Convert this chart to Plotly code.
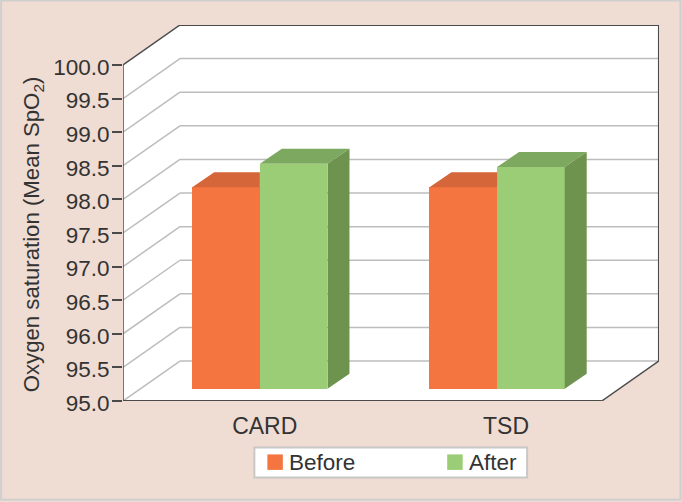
import plotly.graph_objects as go

categories = ["CARD", "TSD"]
series_names = ["Before", "After"]
before = [98.0, 98.0]
after = [98.35, 98.3]
y_ticks = [95.0, 95.5, 96.0, 96.5, 97.0, 97.5, 98.0, 98.5, 99.0, 99.5, 100.0]
y_labels = ["95.0", "95.5", "96.0", "96.5", "97.0", "97.5", "98.0", "98.5", "99.0", "99.5", "100.0"]

W, H = 682, 502
LEFT, RIGHT, TOP, BOTTOM = 122.5, 659.0, 25.0, 401.5
PX_X = 239.6          # pixels per x unit
PX_Y = 67.3           # pixels per y unit
DX, DY = 57.0 / PX_X, 40.0 / PX_Y              # chamber depth
BDX, BDY = 22.0 / PX_X, 15.0 / PX_Y            # bar depth
LIFT = 12.2 / PX_Y    # bars stand inside the floor
BAR_W = 67.7 / PX_X
before_x = [0.4305, 1.4215]
after_x = [0.7130, 1.7040]
label_x = [0.592, 1.600]
FRONT_X = 2.0

ORANGE, ORANGE_TOP = "#F47540", "#D5663A"
GREEN, GREEN_TOP, GREEN_SIDE = "#9ACD75", "#7DA85F", "#6E934E"
DARK, GRID, BG, TEXT = "#4a4a4a", "#bdbdbd", "#EFDCD2", "#333333"
FONT = "Liberation Sans, Arial, sans-serif"


def px(x):
    return (x - LEFT) / (RIGHT - LEFT)


def py(y):
    return (BOTTOM - y) / (BOTTOM - TOP)


fig = go.Figure()

for name, xs, vals, colr in [(series_names[0], before_x, before, ORANGE), (series_names[1], after_x, after, GREEN)]:
    fig.add_trace(go.Bar(name=name, x=xs, y=[v - 95 for v in vals], base=95 + LIFT, width=BAR_W,
                         marker=dict(color=colr, line=dict(width=0)), hoverinfo="skip", showlegend=False))


def poly(xs, ys, colr):
    fig.add_trace(go.Scatter(x=xs, y=ys, fill="toself", fillcolor=colr, mode="lines",
                             line=dict(width=0, color=colr), showlegend=False, hoverinfo="skip"))


for i in range(2):
    x0, t = before_x[i] - BAR_W / 2, before[i] + LIFT
    x1 = x0 + BAR_W
    poly([x0, x1, x1, x0 + BDX, x0], [t, t, t + BDY, t + BDY, t], ORANGE_TOP)
    x0, t = after_x[i] - BAR_W / 2, after[i] + LIFT
    x1 = x0 + BAR_W
    poly([x0, x1, x1 + BDX, x0 + BDX, x0], [t, t, t + BDY, t + BDY, t], GREEN_TOP)
    b = 95 + LIFT
    poly([x1, x1 + BDX, x1 + BDX, x1, x1], [t, t + BDY, b + BDY, b, t], GREEN_SIDE)

shapes = []
ymax = y_ticks[-1]
# thin grey frame round the page
shapes.append(dict(type="rect", xref="paper", yref="paper", layer="below", x0=px(0.5), x1=px(680.5),
                   y0=py(500.5), y1=py(0.5), fillcolor="rgba(0,0,0,0)", line=dict(color="#cfcfcf", width=2)))
shapes.append(dict(type="path", layer="below", line=dict(width=0), fillcolor="white",
                   path=f"M0,95 L0,{ymax} L{DX},{ymax + DY} L{FRONT_X + DX},{ymax + DY} "
                        f"L{FRONT_X + DX},{95 + DY} L{FRONT_X},95 Z"))
for v in y_ticks[:-1]:
    shapes.append(dict(type="line", layer="below", x0=0, y0=v, x1=DX, y1=v + DY, line=dict(color=GRID, width=1.5)))
    shapes.append(dict(type="line", layer="below", x0=DX, y0=v + DY, x1=FRONT_X + DX, y1=v + DY,
                       line=dict(color=GRID, width=1.5)))
for a, b, c, d, w in [
    (0, 95, 0, ymax, 1.5),
    (0, ymax, DX, ymax + DY, 1.5),
    (DX, ymax + DY, FRONT_X + DX, ymax + DY, 2),
    (FRONT_X + DX, ymax + DY, FRONT_X + DX, 95 + DY, 1.5),
    (FRONT_X + DX, 95 + DY, FRONT_X, 95, 1.5),
    (FRONT_X, 95, 0, 95, 2),
]:
    shapes.append(dict(type="line", layer="below", x0=a, y0=b, x1=c, y1=d, line=dict(color=DARK, width=w)))

# legend box and swatches, placed in page pixels
shapes.append(dict(type="rect", xref="paper", yref="paper", x0=px(254), x1=px(527), y0=py(448), y1=py(478),
                   fillcolor="white", line=dict(color="#c8c8c8", width=2)))
for sx, colr in [(267, ORANGE), (447, GREEN)]:
    shapes.append(dict(type="rect", xref="paper", yref="paper", x0=px(sx), x1=px(sx + 15.5), y0=py(455), y1=py(470.5),
                       fillcolor=colr, line=dict(width=0)))

annotations = [
    dict(text=series_names[0], xref="paper", yref="paper", x=px(287), y=py(463), xanchor="left", yanchor="middle",
         showarrow=False, font=dict(size=22.5, color=TEXT)),
    dict(text=series_names[1], xref="paper", yref="paper", x=px(466.5), y=py(463), xanchor="left", yanchor="middle",
         showarrow=False, font=dict(size=22.5, color=TEXT)),
    dict(text="Oxygen saturation (Mean SpO<sub>2</sub>)", xref="paper", yref="paper", x=px(32), y=py(235),
         xanchor="center", yanchor="middle", textangle=-90, showarrow=False, font=dict(size=22.2, color=TEXT)),
]

fig.update_layout(
    width=W, height=H, autosize=False,
    margin=dict(l=LEFT, r=W - RIGHT, t=TOP, b=H - BOTTOM, pad=0),
    paper_bgcolor=BG, plot_bgcolor="rgba(0,0,0,0)",
    barmode="overlay", bargap=0,
    font=dict(family=FONT, color=TEXT, size=20),
    shapes=shapes, annotations=annotations,
    xaxis=dict(range=[0, (RIGHT - LEFT) / PX_X], tickmode="array", tickvals=label_x, ticktext=categories,
               showgrid=False, zeroline=False, showline=False, ticks="", ticklabelstandoff=9,
               tickfont=dict(size=23, color=TEXT), fixedrange=True, automargin=False),
    yaxis=dict(range=[95, 95 + (BOTTOM - TOP) / PX_Y], tickmode="array", tickvals=y_ticks, ticktext=y_labels,
               showgrid=False, zeroline=False, showline=False, ticks="outside", ticklen=10, tickwidth=1.5,
               tickcolor=DARK, tickfont=dict(size=22.5, color=TEXT), fixedrange=True, automargin=False,
               ticklabelshift=2, ticklabelstandoff=-2),
    showlegend=False,
)

fig.write_html("out.html", config=dict(displayModeBar=False),
               post_script="document.body.style.margin='0';document.body.style.overflow='hidden';")
